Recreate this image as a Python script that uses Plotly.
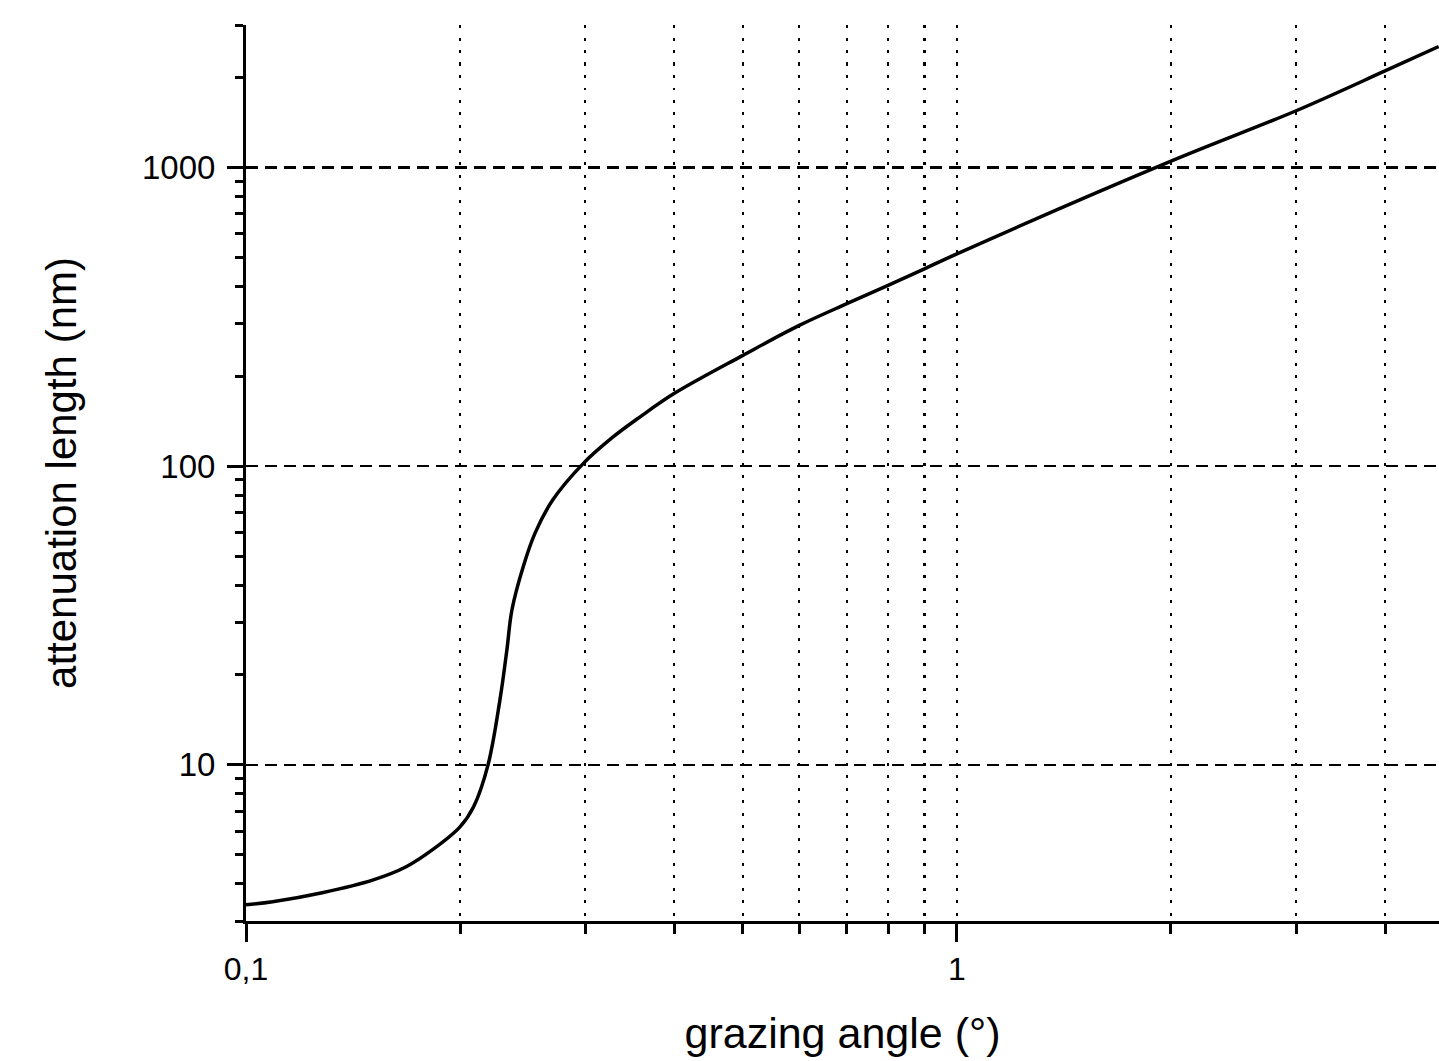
import plotly.graph_objects as go

# grazing angle (deg) and attenuation length (nm)
angle_deg = [0.100, 0.109, 0.128, 0.151, 0.168, 0.183, 0.200, 0.209, 0.219,
             0.2276, 0.2328, 0.2366, 0.2453, 0.255, 0.270, 0.298, 0.328, 0.358,
             0.400, 0.500, 0.600, 0.700, 0.800, 0.900, 1.000, 2.000, 3.000,
             4.000, 4.760]
atten_nm = [3.40, 3.48, 3.73, 4.12, 4.56, 5.20, 6.20, 7.24, 10.0,
            16.5, 24.3, 33.0, 45.9, 59.7, 77.0, 102, 125, 146,
            175, 235, 296, 350, 403, 458, 514, 1050, 1549,
            2105, 2541]

x_major = [0.1, 1]
x_major_text = ["0,1", "1"]
x_minor = [0.2, 0.3, 0.4, 0.5, 0.6, 0.7, 0.8, 0.9, 2, 3, 4]

y_major = [10, 100, 1000]
y_major_text = ["10", "100", "1000"]
y_minor = [3, 4, 5, 6, 7, 8, 9, 20, 30, 40, 50, 60, 70, 80, 90,
           200, 300, 400, 500, 600, 700, 800, 900, 2000, 3000]

fig = go.Figure(go.Scatter(
    x=angle_deg, y=atten_nm, mode="lines",
    line=dict(color="black", width=3.5, shape="spline", smoothing=1.0),
    hoverinfo="skip"))

fig.update_layout(
    width=1439, height=1061,
    margin=dict(l=246, r=0, t=25, b=140),
    plot_bgcolor="white", paper_bgcolor="white",
    showlegend=False,
    font=dict(family="Liberation Sans, Arial, sans-serif", color="black"),
)

fig.update_xaxes(
    type="log", range=[-1, 0.678],
    tickmode="array", tickvals=x_major, ticktext=x_major_text,
    ticks="outside", ticklen=18, tickwidth=3, tickcolor="black",
    showline=True, linewidth=3, linecolor="black",
    showgrid=True, gridcolor="black", gridwidth=2.5, griddash="3px,9.5px",
    minor=dict(tickmode="array", tickvals=x_minor, ticks="outside",
               ticklen=10, tickwidth=3, tickcolor="black",
               showgrid=True, gridcolor="black", gridwidth=2.5,
               griddash="3px,9.5px"),
    zeroline=False,
    tickfont=dict(size=32),
    title=dict(text="grazing angle (°)", font=dict(size=43), standoff=32),
)

fig.update_yaxes(
    type="log", range=[0.47712, 3.47712],
    tickmode="array", tickvals=y_major, ticktext=y_major_text,
    ticks="outside", ticklen=16, tickwidth=3, tickcolor="black",
    showline=True, linewidth=3, linecolor="black",
    showgrid=True, gridcolor="black", gridwidth=2.5, griddash="12px,7px",
    minor=dict(tickmode="array", tickvals=y_minor, ticks="outside",
               ticklen=8, tickwidth=3, tickcolor="black", showgrid=False),
    zeroline=False,
    ticklabelstandoff=5,
    tickfont=dict(size=33),
    title=dict(text="attenuation length (nm)", font=dict(size=42), standoff=53),
)

# remove the default page margin so the 1439x1061 figure fills the window
fig.write_html(
    "out.html",
    config={"displayModeBar": False, "staticPlot": True},
    post_script="document.body.style.margin='0';document.body.style.overflow='hidden';",
)
